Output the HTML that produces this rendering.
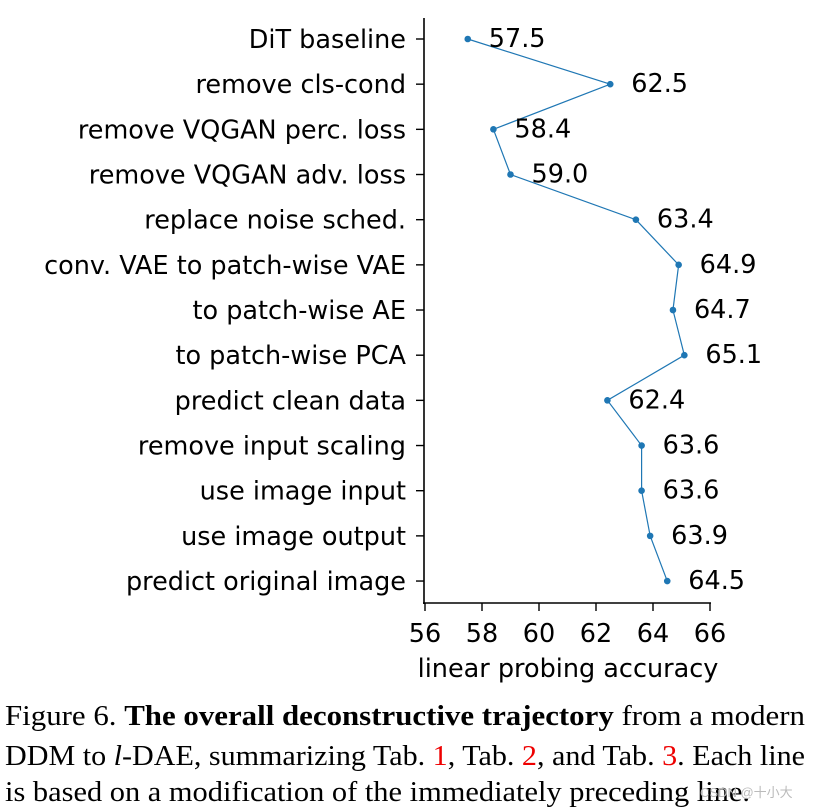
<!DOCTYPE html>
<html><head><meta charset="utf-8"><style>
html,body{margin:0;padding:0;background:#fff;}
svg{display:block;}
</style></head><body>
<svg id="chart" width="813" height="809" xmlns="http://www.w3.org/2000/svg">
<g id="plot"></g>
<g font-family="Liberation Serif, serif" font-size="29" fill="#000">
<text x="5" y="725" textLength="800" lengthAdjust="spacingAndGlyphs">Figure 6.  <tspan font-weight="bold">The overall deconstructive trajectory</tspan> from a modern</text>
<text x="5" y="765" textLength="800" lengthAdjust="spacingAndGlyphs">DDM to <tspan font-style="italic">l</tspan>-DAE, summarizing Tab. <tspan fill="#e00">1</tspan>, Tab. <tspan fill="#e00">2</tspan>, and Tab. <tspan fill="#e00">3</tspan>. Each line</text>
<text x="5" y="801" textLength="745" lengthAdjust="spacingAndGlyphs">is based on a modification of the immediately preceding line.</text>
</g>
<text x="700" y="797" font-family="Liberation Sans, Noto Sans CJK SC, sans-serif" font-size="13" fill="#bbb">CSDN @十小大</text>
</svg>
<script>
const categories = ["DiT baseline","remove cls-cond","remove VQGAN perc. loss","remove VQGAN adv. loss","replace noise sched.","conv. VAE to patch-wise VAE","to patch-wise AE","to patch-wise PCA","predict clean data","remove input scaling","use image input","use image output","predict original image"];
const values = [57.5,62.5,58.4,59.0,63.4,64.9,64.7,65.1,62.4,63.6,63.6,63.9,64.5];
const xTicks = [56,58,60,62,64,66];
const NS="http://www.w3.org/2000/svg";
const g=document.getElementById('plot');
const x0=425,x1=710,xmin=56,xmax=66;
const xs=v=>x0+(v-xmin)/(xmax-xmin)*(x1-x0);
const y0=39,dy=45.17;
const ys=i=>y0+i*dy;
function mk(t,a){const e=document.createElementNS(NS,t);for(const k in a)e.setAttribute(k,a[k]);g.appendChild(e);return e;}
const F='DejaVu Sans, sans-serif';
const FS=25.5;
let e;
e=mk('line',{x1:424,y1:18,x2:424,y2:604,stroke:'#000','stroke-width':1.6});


e=mk('line',{x1:423,y1:603,x2:711,y2:603,stroke:'#000','stroke-width':1.6});


categories.forEach((c,i)=>{
  let t=mk('line',{x1:416,y1:ys(i),x2:424,y2:ys(i),stroke:'#000','stroke-width':1.4});
  
  
  let l=mk('text',{x:406,y:ys(i)+9,'text-anchor':'end','font-family':F,'font-size':FS});
  l.textContent=c;
  
  
});
xTicks.forEach(v=>{
  let t=mk('line',{x1:xs(v),y1:603,x2:xs(v),y2:611,stroke:'#000','stroke-width':1.4});
  
  
  let l=mk('text',{x:xs(v),y:642,'text-anchor':'middle','font-family':F,'font-size':FS});
  l.textContent=v;
  
  
});
let xl=mk('text',{x:568,y:677,'text-anchor':'middle','font-family':F,'font-size':FS});
xl.textContent='linear probing accuracy';


let pl=mk('polyline',{points:values.map((v,i)=>xs(v)+','+ys(i)).join(' '),fill:'none',stroke:'#1f77b4','stroke-width':1.2});


values.forEach((v,i)=>{
  let c=mk('circle',{cx:xs(v),cy:ys(i),r:3.3,fill:'#1f77b4'});
  
  
  let l=mk('text',{x:xs(v)+21,y:ys(i)+8,'font-family':F,'font-size':FS});
  l.textContent=v.toFixed(1);
  
  
});
</script>
</body></html>
